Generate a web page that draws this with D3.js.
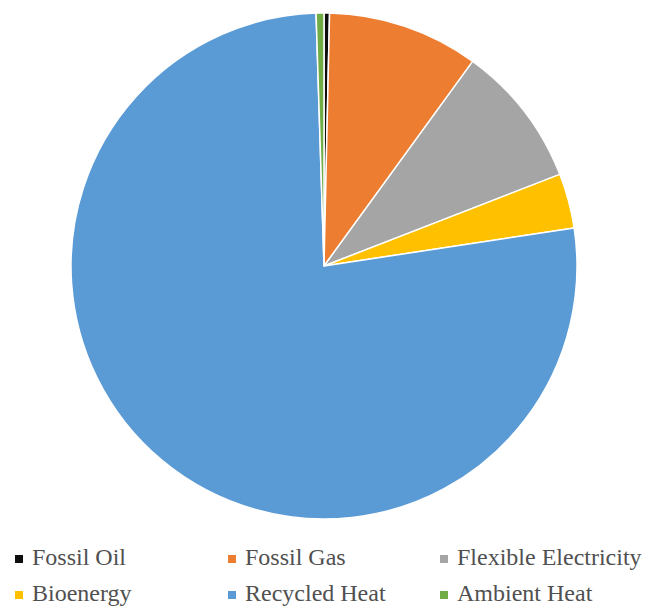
<!DOCTYPE html>
<html>
<head>
<meta charset="utf-8">
<script src="https://cdn.jsdelivr.net/npm/d3@7"></script>
<style>
  html, body { margin: 0; padding: 0; background: #fff; }
  svg { display: block; }
</style>
</head>
<body>
<svg id="chart" width="648" height="607"></svg>
<script>
const categories = ["Fossil Oil", "Fossil Gas", "Flexible Electricity", "Bioenergy", "Recycled Heat", "Ambient Heat"];
const values = [0.35, 9.65, 9.1, 3.5, 76.9, 0.5];
const colors = ["#0d0d0d", "#ED7D31", "#A5A5A5", "#FFC000", "#5B9BD5", "#70AD47"];

const svg = d3.select("#chart");
const cx = 324, cy = 266, r = 253;

const data = categories.map((c, i) => ({ name: c, value: values[i], color: colors[i] }));
const pie = d3.pie().value(d => d.value).sort(null);
const arc = d3.arc().innerRadius(0).outerRadius(r);

svg.append("g")
  .attr("transform", `translate(${cx},${cy})`)
  .selectAll("path")
  .data(pie(data))
  .join("path")
  .attr("d", arc)
  .attr("fill", d => d.data.color)
  .attr("stroke", "#fff")
  .attr("stroke-width", 1.5)
  .attr("stroke-linejoin", "round");

// Legend: 3 columns x 2 rows
const colX = [15, 228, 440];
const rowY = [565, 601];
const legend = svg.append("g");
data.forEach((d, i) => {
  const col = i % 3, row = Math.floor(i / 3);
  const g = legend.append("g").attr("transform", `translate(${colX[col]},${rowY[row]})`);
  g.append("rect").attr("x", 0).attr("y", -10).attr("width", 8).attr("height", 8).attr("fill", d.color);
  g.append("text")
    .attr("x", 17).attr("y", 0)
    .attr("font-family", "'Liberation Serif', 'Times New Roman', serif")
    .attr("font-size", 24)
    .attr("fill", "#505050")
    .text(d.name);
});
</script>
</body>
</html>
